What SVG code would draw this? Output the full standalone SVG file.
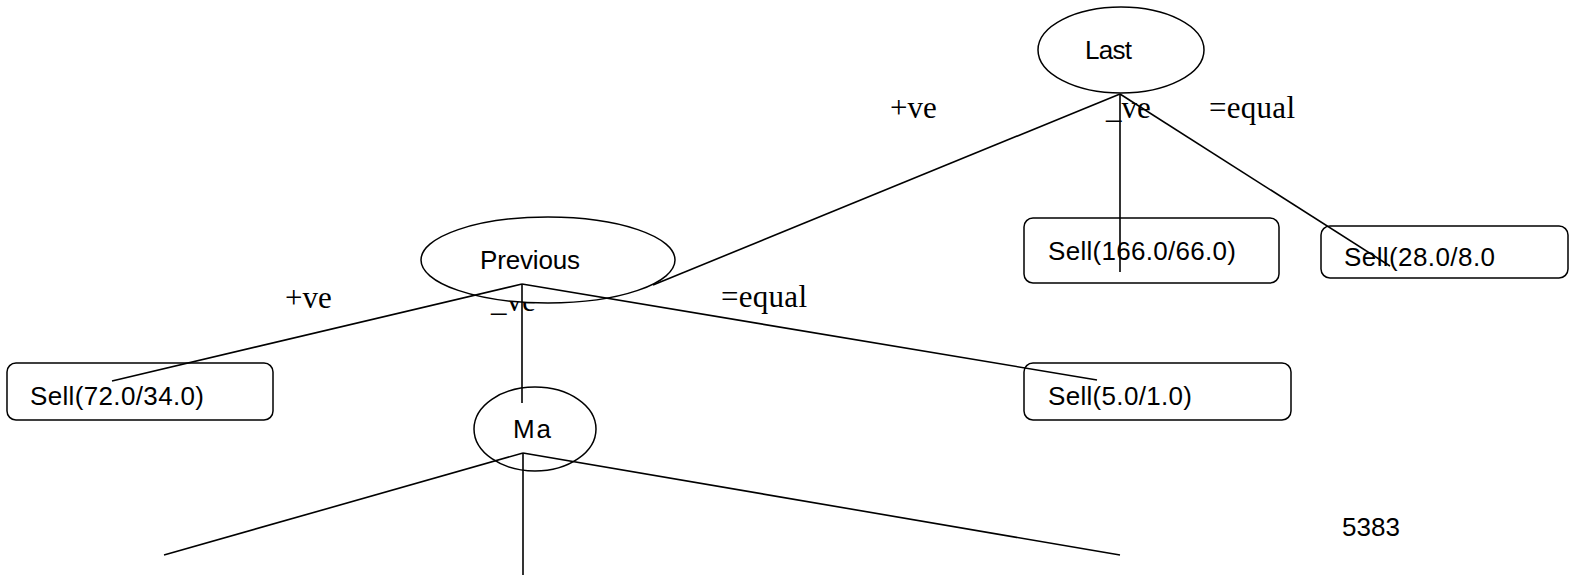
<svg xmlns="http://www.w3.org/2000/svg" width="1572" height="575" viewBox="0 0 1572 575">
<style>
.node{fill:#fff;stroke:#000;stroke-width:1.5}
.t{font-family:"Liberation Sans",Arial,sans-serif;font-size:26px;fill:#000}
.lbl{font-family:"Liberation Serif","Times New Roman",serif;font-size:31px;fill:#000}
.edge{stroke:#000;stroke-width:1.6;fill:none}
</style>
<rect width="1572" height="575" fill="#fff"/>
<g id="edge-labels">
<text class="lbl" x="890" y="118">+ve</text>
<text class="lbl" x="1106" y="118">_ve</text>
<text class="lbl" x="1209" y="118" textLength="86">=equal</text>
<text class="lbl" x="285" y="308">+ve</text>
<text class="lbl" x="491" y="311">_ve</text>
<text class="lbl" x="721" y="307" textLength="86">=equal</text>
</g>
<g id="node-last"><ellipse class="node" cx="1121" cy="50" rx="83" ry="43"/><text class="t" x="1085" y="59" textLength="47">Last</text></g>
<g id="node-previous"><ellipse class="node" cx="548" cy="260" rx="127" ry="43"/><text class="t" x="480" y="269" textLength="100">Previous</text></g>
<g id="node-ma"><ellipse class="node" cx="535" cy="429" rx="61" ry="42"/><text class="t" x="513" y="438" textLength="38">Ma</text></g>
<g id="node-sell166"><rect class="node" x="1024" y="218" width="255" height="65" rx="9"/><text class="t" x="1048" y="260" textLength="188">Sell(166.0/66.0)</text></g>
<g id="node-sell28"><rect class="node" x="1321" y="226" width="247" height="52" rx="9"/><text class="t" x="1344" y="266" textLength="151">Sell(28.0/8.0</text></g>
<g id="node-sell72"><rect class="node" x="7" y="363" width="266" height="57" rx="9"/><text class="t" x="30" y="405" textLength="174">Sell(72.0/34.0)</text></g>
<g id="node-sell5"><rect class="node" x="1024" y="363" width="267" height="57" rx="9"/><text class="t" x="1048" y="405" textLength="144">Sell(5.0/1.0)</text></g>
<g id="note"><text class="t" x="1342" y="536" textLength="58">5383</text></g>
<g id="connectors">
<line class="edge" x1="1120" y1="94" x2="653" y2="285"/>
<line class="edge" x1="1120" y1="94" x2="1120" y2="272"/>
<line class="edge" x1="1120" y1="94" x2="1390" y2="266"/>
<line class="edge" x1="522" y1="284" x2="112" y2="381"/>
<line class="edge" x1="522" y1="284" x2="522" y2="403"/>
<line class="edge" x1="522" y1="284" x2="1097" y2="380"/>
<line class="edge" x1="523" y1="453" x2="164" y2="555"/>
<line class="edge" x1="523" y1="453" x2="523" y2="575"/>
<line class="edge" x1="523" y1="453" x2="1120" y2="555"/>
</g>
</svg>
